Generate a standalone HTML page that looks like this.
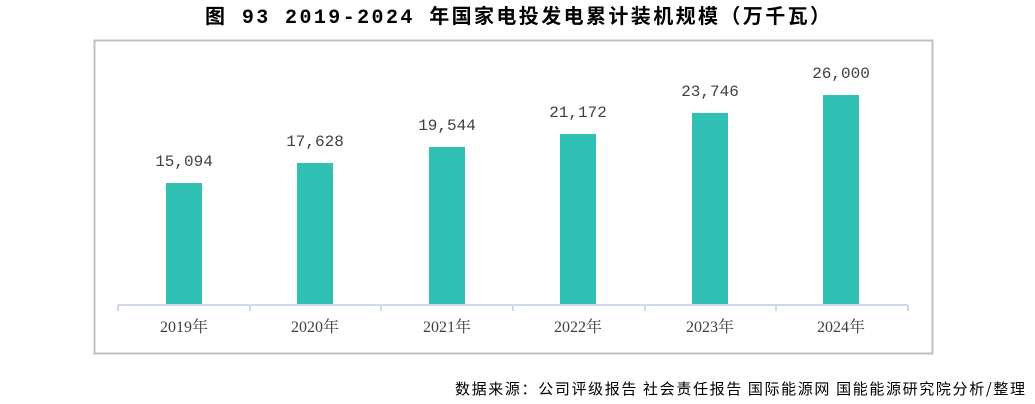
<!DOCTYPE html>
<html><head><meta charset="utf-8"><style>
body{margin:0;width:1035px;height:404px;background:#fff;overflow:hidden;}
svg{display:block}
</style></head><body>
<svg width="1035" height="404" xmlns="http://www.w3.org/2000/svg">
<text x="205" y="23" textLength="625" lengthAdjust="spacing" font-family="Liberation Mono, 'Noto Sans CJK SC', monospace" font-weight="bold" font-size="20" fill="#000">图 93 2019-2024 年国家电投发电累计装机规模（万千瓦）</text>
<rect x="94.5" y="40.5" width="838" height="313" fill="#fff" stroke="#bfbfbf" stroke-width="2"/>
<g fill="#31c1b4">
<rect x="166" y="183" width="36" height="122"/>
<rect x="297" y="163" width="36" height="142"/>
<rect x="429" y="147" width="36" height="158"/>
<rect x="560" y="134" width="36" height="171"/>
<rect x="692" y="113" width="36" height="192"/>
<rect x="823" y="95" width="36" height="210"/>
</g>
<g stroke="#cfd8ee" stroke-width="2" fill="none">
<line x1="118" y1="305" x2="908" y2="305"/>
<line x1="118" y1="305" x2="118" y2="311"/>
<line x1="250" y1="305" x2="250" y2="311"/>
<line x1="381" y1="305" x2="381" y2="311"/>
<line x1="513" y1="305" x2="513" y2="311"/>
<line x1="645" y1="305" x2="645" y2="311"/>
<line x1="776" y1="305" x2="776" y2="311"/>
<line x1="908" y1="305" x2="908" y2="311"/>
</g>
<g font-family="Liberation Serif, 'Noto Serif CJK SC', serif" font-size="16" fill="#404040" text-anchor="middle">
<text x="184" y="332">2019年</text>
<text x="315" y="332">2020年</text>
<text x="447" y="332">2021年</text>
<text x="578" y="332">2022年</text>
<text x="710" y="332">2023年</text>
<text x="841" y="332">2024年</text>
</g>
<g font-family="Liberation Mono, 'Noto Sans CJK SC', monospace" font-size="16" fill="#404040" text-anchor="middle">
<text x="184" y="166">15,094</text>
<text x="315" y="146">17,628</text>
<text x="447" y="130">19,544</text>
<text x="578" y="117">21,172</text>
<text x="710" y="96">23,746</text>
<text x="841" y="78">26,000</text>
</g>
<text x="455" y="394" textLength="570" lengthAdjust="spacing" font-family="'Noto Sans CJK SC', sans-serif" font-size="15" fill="#000">数据来源：公司评级报告 社会责任报告 国际能源网 国能能源研究院分析/整理</text>
</svg>
</body></html>
